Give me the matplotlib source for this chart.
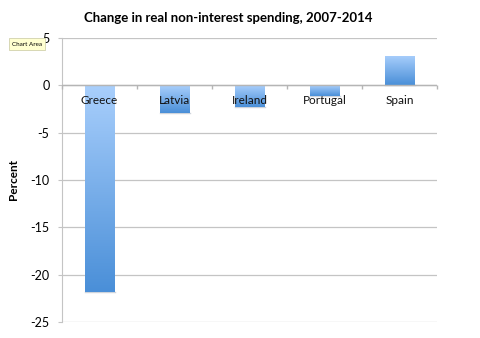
import matplotlib
matplotlib.use("Agg")
import matplotlib.pyplot as plt
import numpy as np
from matplotlib.colors import LinearSegmentedColormap

categories = ["Greece", "Latvia", "Ireland", "Portugal", "Spain"]
values = [-21.8, -2.9, -2.3, -1.1, 3.1]
yticks = [5, 0, -5, -10, -15, -20, -25]

plt.rcParams['font.family'] = ['Lato', 'DejaVu Sans']

fig = plt.figure(figsize=(4.8, 3.38), dpi=100)
ax = fig.add_axes([62/480, 1-322/338, 375/480, 284/338])
ax.set_xlim(-0.5, len(categories)-0.5)
ax.set_ylim(-25, 5)

grid_c = "#c4c4c4"
for t in yticks:
    ax.axhline(t, color=grid_c, lw=0.9, zorder=1)

cmap = LinearSegmentedColormap.from_list("g", ["#a9cffc", "#4a8fd8"])
x = np.arange(len(categories))
bars = ax.bar(x, values, width=0.4, color="none", edgecolor="none", zorder=3)
grad = np.linspace(0, 1, 256).reshape(-1, 1)
for b in bars:
    x0, y0 = b.get_x(), b.get_y()
    w, h = b.get_width(), b.get_height()
    ylo, yhi = min(y0, y0+h), max(y0, y0+h)
    im = ax.imshow(grad, cmap=cmap, aspect="auto", origin="upper",
                   extent=[x0, x0+w, ylo, yhi], zorder=3, interpolation="bilinear")
    im.set_clip_path(b)
    ax.plot([x0, x0+w], [ylo, ylo], color="#b0b8c4", lw=1.0, alpha=0.6, zorder=2)

ax.axhline(0, color="#b5b5b5", lw=1.0, zorder=4)
bounds = np.arange(len(categories)+1) - 0.5
ax.plot(bounds, np.zeros_like(bounds), linestyle="none", marker=3, markersize=3,
        color="#b5b5b5", zorder=4, clip_on=False)

for xi, c in zip(x, categories):
    ax.annotate(c, (xi, 0), xytext=(0, -11), textcoords="offset points",
                ha="center", va="center", fontsize=8.5, zorder=5, color="#111111")

ax.set_yticks(yticks)
ax.set_yticklabels([str(t) for t in yticks], fontsize=9)
ax.set_xticks([])
ax.tick_params(axis="y", length=3, color=grid_c, pad=6)
for s in ["top", "right", "bottom"]:
    ax.spines[s].set_visible(False)
ax.spines["left"].set_color(grid_c)
ax.set_ylabel("Percent", fontsize=8.5, fontweight="bold", labelpad=8)

fig.text(228/480, 1-18/338, "Change in real non-interest spending, 2007-2014",
         ha="center", va="center", fontsize=9.5, fontweight="bold")
fig.text(27/480, 1-44/338, "Chart Area", ha="center", va="center", fontsize=4.5,
         bbox=dict(boxstyle="square,pad=0.5", fc="#ffffd0", ec="#c8c8a0", lw=0.5))

fig.savefig("out.png", dpi=100)
